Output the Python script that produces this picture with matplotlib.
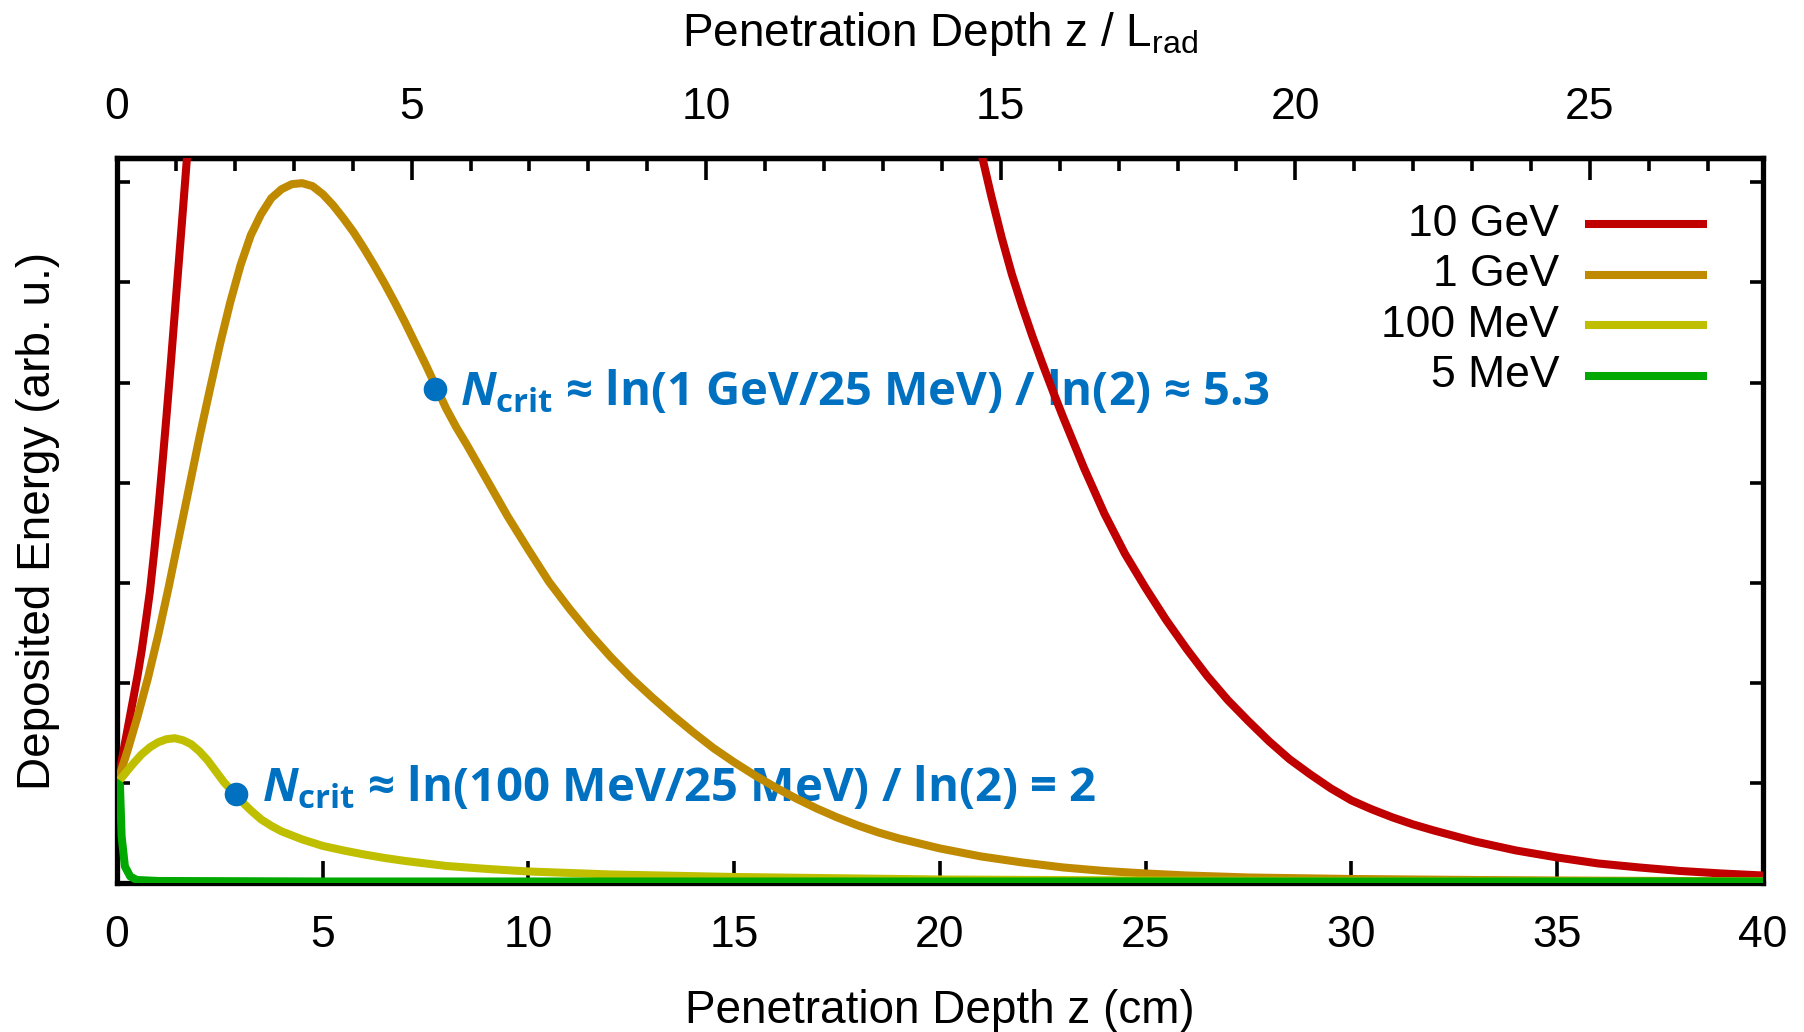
import numpy as np
import matplotlib.pyplot as plt
from matplotlib.lines import Line2D
from matplotlib.ticker import MultipleLocator

plt.rcParams['font.family'] = ['Liberation Sans', 'DejaVu Sans']
plt.rcParams['mathtext.fontset'] = 'custom'
plt.rcParams['mathtext.it'] = 'Open Sans:italic:bold'
plt.rcParams['mathtext.rm'] = 'Open Sans:bold'
plt.rcParams['mathtext.sf'] = 'Liberation Sans'

# radiation length (cm)
L_RAD = 1.432

# deposited energy profiles (z in cm, energy in tick units)
z_10gev = [0.0, 0.1, 0.2, 0.3, 0.4, 0.5, 0.6, 0.7, 0.8, 0.9, 1.0, 1.1, 1.2, 1.3,
           1.4, 1.5, 1.6, 1.7, 1.75,
           np.nan,
           20.9, 21.0, 21.25, 21.5, 21.75, 22.0, 22.25, 22.5, 22.75, 23.0, 23.5,
           24.0, 24.5, 25.0, 25.5, 26.0, 26.5, 27.0, 27.5, 28.0, 28.5, 29.0, 29.5,
           30.0, 30.5, 31.0, 31.5, 32.0, 33.0, 34.0, 35.0, 36.0, 37.0, 38.0, 39.0,
           40.0]
e_10gev = [1.0, 1.2, 1.42, 1.64, 1.86, 2.08, 2.33, 2.62, 2.92, 3.3, 3.72, 4.18,
           4.66, 5.16, 5.68, 6.2, 6.72, 7.25, 7.5,
           np.nan,
           7.5, 7.3, 6.86, 6.45, 6.08, 5.76, 5.46, 5.18, 4.91, 4.65, 4.15,
           3.69, 3.29, 2.95, 2.63, 2.34, 2.07, 1.83, 1.62, 1.42, 1.24, 1.09, 0.95,
           0.83, 0.74, 0.66, 0.59, 0.53, 0.42, 0.33, 0.26, 0.2, 0.16, 0.125, 0.1,
           0.08]

z_1gev = [0.0, 0.25, 0.5, 0.75, 1.0, 1.25, 1.5, 1.75, 2.0, 2.25, 2.5, 2.75, 3.0,
          3.25, 3.5, 3.75, 4.0, 4.25, 4.5, 4.75, 5.0, 5.25, 5.5, 5.75, 6.0, 6.25,
          6.5, 6.75, 7.0, 7.25, 7.5, 7.75, 8.0, 8.25, 8.5, 8.75, 9.0, 9.5, 10.0,
          10.5, 11.0, 11.5, 12.0, 12.5, 13.0, 13.5, 14.0, 14.5, 15.0, 15.5, 16.0,
          16.5, 17.0, 17.5, 18.0, 18.5, 19.0, 20.0, 21.0, 22.0, 23.0, 24.0, 25.0,
          26.0, 27.5, 30.0, 33.0, 36.0, 40.0]
e_1gev = [1.0, 1.32, 1.67, 2.05, 2.48, 2.95, 3.45, 3.95, 4.45, 4.92, 5.38, 5.8,
          6.17, 6.47, 6.68, 6.84, 6.93, 6.98, 6.99, 6.96, 6.88, 6.77, 6.64, 6.5,
          6.34, 6.17, 5.99, 5.8, 5.6, 5.39, 5.18, 4.96, 4.74, 4.55, 4.38, 4.2,
          4.02, 3.66, 3.33, 3.01, 2.74, 2.49, 2.26, 2.05, 1.86, 1.68, 1.51, 1.35,
          1.21, 1.08, 0.96, 0.85, 0.75, 0.66, 0.58, 0.51, 0.45, 0.35, 0.27, 0.21,
          0.16, 0.125, 0.1, 0.08, 0.06, 0.045, 0.035, 0.028, 0.022]

z_100mev = [0.0, 0.2, 0.4, 0.6, 0.8, 1.0, 1.2, 1.4, 1.6, 1.8, 2.0, 2.2, 2.4, 2.6,
            2.8, 3.0, 3.25, 3.5, 3.75, 4.0, 4.5, 5.0, 5.5, 6.0, 6.5, 7.0, 8.0,
            9.0, 10.0, 12.0, 15.0, 20.0, 25.0, 30.0, 40.0]
e_100mev = [1.0, 1.1, 1.2, 1.29, 1.36, 1.41, 1.44, 1.45, 1.43, 1.39, 1.32, 1.23,
            1.12, 1.01, 0.92, 0.83, 0.73, 0.64, 0.575, 0.52, 0.44, 0.375, 0.33,
            0.29, 0.255, 0.225, 0.175, 0.145, 0.12, 0.09, 0.065, 0.04, 0.03,
            0.025, 0.02]

z_5mev = [0.0, 0.07, 0.11, 0.19, 0.32, 0.48, 1.0, 5.0, 40.0]
e_5mev = [1.0, 0.98, 0.47, 0.17, 0.07, 0.035, 0.025, 0.02, 0.02]

labels = ['10 GeV', '1 GeV', '100 MeV', '5 MeV']
colors = ['#c00000', '#bf8a00', '#bfbf00', '#00a800']

# critical points marked on the 1 GeV and 100 MeV curves
crit_z = [7.73, 2.89]
crit_e = [4.94, 0.89]
crit_text = [r'$N_{\mathrm{crit}}$ ≈ ln(1 GeV/25 MeV) / ln(2) ≈ 5.3',
             r'$N_{\mathrm{crit}}$ ≈ ln(100 MeV/25 MeV) / ln(2) = 2']
text_offset = [(18, -12), (19, -5)]
BLUE = '#0070c0'

fig = plt.figure(figsize=(18.04, 10.32), dpi=100)
ax = fig.add_axes([0.0649, 0.1439, 0.9122, 0.7034])

lw = 5.8
for z, e, col in zip([z_10gev, z_1gev, z_100mev, z_5mev],
                     [e_10gev, e_1gev, e_100mev, e_5mev], colors):
    ax.plot(z, e, color=col, lw=lw, solid_joinstyle='round', zorder=3)

ax.plot(crit_z, crit_e, 'o', color=BLUE, ms=16, zorder=5, clip_on=False)
for z, e, txt, off in zip(crit_z, crit_e, crit_text, text_offset):
    ax.annotate(txt, (z, e), xytext=off, textcoords='offset points',
                ha='left', va='baseline', color=BLUE, fontsize=34,
                fontfamily='Open Sans', fontweight='bold', zorder=2)

ax.set_xlim(0, 40)
ax.set_ylim(0, 7.245)
ax.set_xticks(np.arange(0, 41, 5))
ax.set_yticks(np.arange(1, 8))
ax.set_yticklabels([])
ax.tick_params(axis='x', direction='in', length=16, width=2.6, labelsize=32, pad=23,
               top=False)
ax.tick_params(axis='y', direction='in', length=9.5, width=2.6, left=True, right=True)
for sp in ax.spines.values():
    sp.set_linewidth(3.8)

top = ax.secondary_xaxis('top', functions=(lambda z: z / L_RAD, lambda t: t * L_RAD))
top.set_xticks(np.arange(0, 30, 5))
top.xaxis.set_minor_locator(MultipleLocator(1))
top.tick_params(which='major', direction='in', length=16, width=2.6, labelsize=32, pad=21)
top.tick_params(which='minor', direction='in', length=9.5, width=2.6)
top.spines['top'].set_linewidth(3.8)

ax.set_xlabel('Penetration Depth z (cm)', fontsize=33)
ax.xaxis.set_label_coords(0.5, -0.192)
ax.xaxis.label.set_verticalalignment('baseline')
top.set_xlabel(r'Penetration Depth z / L$_{\mathsf{rad}}$', fontsize=33)
top.xaxis.set_label_coords(0.5, 1.1537, transform=ax.transAxes)
top.xaxis.label.set_verticalalignment('baseline')
ax.set_ylabel('Deposited Energy (arb. u.)', fontsize=33)
ax.yaxis.set_label_coords(-0.0483, 0.5)
ax.yaxis.label.set_verticalalignment('center')

# legend: right-aligned labels with the line sample on the right
for i, (lab, col) in enumerate(zip(labels, colors)):
    yy = 0.9085 - i * 0.0696
    ax.text(0.8763, yy, lab, transform=ax.transAxes, ha='right', va='center',
            fontsize=32)
    ax.add_line(Line2D([0.892, 0.9662], [yy, yy], transform=ax.transAxes,
                       color=col, lw=lw, solid_capstyle='butt'))

fig.savefig('out.png', dpi=100)
plt.close(fig)
